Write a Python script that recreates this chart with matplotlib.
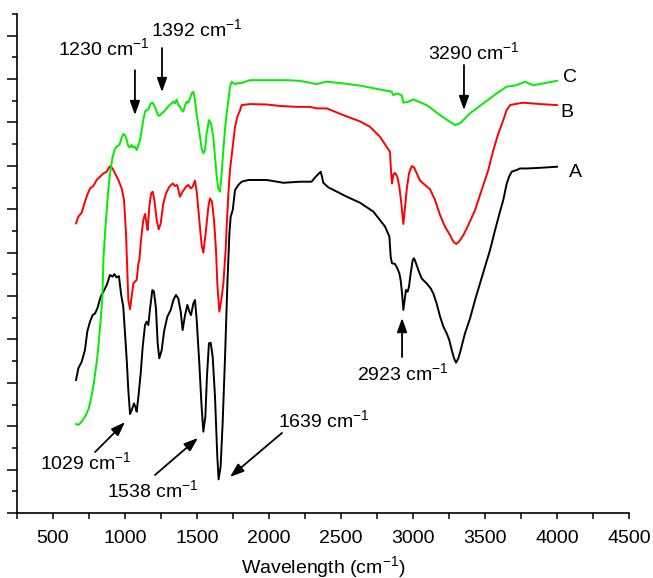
import matplotlib
matplotlib.use("Agg")
import matplotlib.pyplot as plt
from matplotlib.ticker import MultipleLocator, NullFormatter

plt.rcParams['font.family'] = ['Liberation Sans', 'DejaVu Sans']
plt.rcParams['mathtext.fontset'] = 'custom'
plt.rcParams['mathtext.rm'] = 'Liberation Sans'
plt.rcParams['mathtext.it'] = 'Liberation Sans:italic'

# ---- data (wavenumber, arbitrary transmittance units) ----
A_x = [660, 676, 699, 722, 738, 757, 775, 792, 808, 831, 850, 873, 896, 914, 926, 942, 958, 972, 988,
       1000, 1012, 1023, 1035, 1051, 1062, 1072, 1081, 1093, 1109, 1123, 1139, 1150, 1162, 1174, 1190,
       1201, 1215, 1227, 1238, 1255, 1271, 1294, 1317, 1336, 1354, 1370, 1387, 1400, 1417, 1433, 1447,
       1458, 1475, 1486, 1498, 1516, 1532, 1544, 1558, 1569, 1583, 1595, 1609, 1625, 1641, 1650, 1664,
       1678, 1694, 1711, 1725, 1734, 1748, 1764, 1787, 1810, 1857, 1984, 2100, 2215, 2296, 2320, 2343,
       2359, 2368, 2377, 2412, 2540, 2632, 2678, 2725, 2771, 2806, 2836, 2845, 2854, 2875, 2891, 2905,
       2914, 2924, 2933, 2942, 2951, 2963, 2972, 2984, 2998, 3007, 3021, 3037, 3060, 3095, 3123, 3141,
       3164, 3188, 3211, 3234, 3252, 3269, 3285, 3299, 3315, 3331, 3361, 3396, 3431, 3465, 3500, 3535,
       3570, 3604, 3627, 3650, 3667, 3685, 3720, 3743, 3789, 3882, 4000]
A_y = [6.13, 6.67, 6.97, 7.51, 8.36, 8.82, 9.12, 9.20, 9.43, 9.97, 10.20, 10.51, 10.97, 10.89, 11.01,
       10.86, 10.92, 10.12, 9.51, 8.28, 7.05, 5.67, 4.56, 4.82, 5.05, 4.90, 4.67, 5.36, 6.44, 7.67, 8.66,
       8.82, 8.66, 9.43, 10.28, 10.20, 9.43, 7.82, 7.13, 7.51, 8.36, 9.05, 9.35, 9.82, 10.05, 9.89, 9.28,
       8.43, 9.12, 9.59, 9.28, 9.12, 9.66, 9.82, 8.89, 6.90, 4.90, 3.75, 4.44, 6.28, 7.82, 7.85, 7.20,
       5.36, 2.60, 1.55, 2.14, 4.13, 7.05, 10.58, 12.89, 13.66, 13.96, 14.88, 15.12, 15.27, 15.35, 15.35,
       15.22, 15.27, 15.27, 15.47, 15.62, 15.73, 15.50, 15.22, 15.01, 14.58, 14.30, 14.10, 13.89, 13.50,
       13.20, 12.74, 11.81, 11.51, 11.48, 11.28, 11.05, 10.74, 10.12, 9.36, 9.82, 10.28, 10.20, 10.43,
       11.05, 11.66, 11.74, 11.51, 11.20, 10.81, 10.58, 10.35, 10.12, 9.66, 9.05, 8.59, 8.28, 7.97, 7.51,
       7.13, 6.93, 7.13, 7.51, 8.28, 8.97, 9.82, 10.58, 11.35, 12.12, 13.04, 13.89, 14.43, 15.16, 15.50,
       15.73, 15.81, 15.88, 15.88, 15.91, 15.96]

B_x = [660, 676, 699, 722, 738, 757, 780, 803, 826, 850, 873, 896, 914, 931, 954, 977, 993, 1007, 1023,
       1035, 1046, 1058, 1069, 1081, 1093, 1100, 1111, 1127, 1139, 1150, 1157, 1169, 1181, 1192, 1204,
       1220, 1234, 1248, 1266, 1285, 1308, 1331, 1347, 1363, 1382, 1400, 1424, 1440, 1456, 1470, 1486,
       1498, 1516, 1532, 1544, 1560, 1579, 1590, 1604, 1618, 1632, 1641, 1655, 1669, 1683, 1699, 1706,
       1718, 1729, 1748, 1764, 1780, 1799, 1810, 1868, 1984, 2077, 2192, 2285, 2331, 2401, 2516, 2632,
       2701, 2771, 2817, 2840, 2847, 2854, 2863, 2875, 2891, 2905, 2919, 2933, 2945, 2956, 2972, 2991,
       3007, 3026, 3049, 3083, 3118, 3153, 3188, 3222, 3257, 3280, 3299, 3320, 3350, 3384, 3431, 3477,
       3523, 3558, 3593, 3627, 3650, 3674, 3708, 3766, 3882, 4000]
B_y = [13.35, 13.66, 13.84, 14.35, 14.66, 14.96, 15.07, 15.35, 15.50, 15.65, 15.73, 15.99, 15.88, 15.65,
       15.35, 14.96, 14.43, 12.89, 9.82, 9.39, 9.97, 10.58, 10.66, 10.74, 11.51, 11.66, 12.58, 13.50,
       13.78, 13.35, 13.04, 14.12, 14.73, 14.81, 14.43, 13.50, 13.07, 13.35, 14.27, 14.73, 15.04, 15.19,
       15.07, 15.12, 14.58, 14.81, 15.04, 15.12, 14.96, 15.04, 15.32, 14.81, 13.50, 12.35, 12.00, 12.89,
       14.12, 14.50, 14.35, 13.50, 12.12, 10.58, 9.28, 9.82, 10.58, 12.12, 13.20, 14.73, 15.81, 16.88,
       17.80, 18.26, 18.57, 18.80, 18.85, 18.83, 18.76, 18.72, 18.72, 18.65, 18.65, 18.34, 18.05, 17.80,
       17.34, 16.88, 16.65, 15.81, 15.19, 15.58, 15.68, 15.50, 15.04, 14.27, 13.32, 14.12, 14.89, 15.65,
       15.99, 15.93, 15.65, 15.32, 15.12, 14.92, 14.43, 13.73, 13.20, 12.81, 12.51, 12.40, 12.51, 12.81,
       13.27, 13.96, 14.89, 15.81, 16.73, 17.50, 18.11, 18.57, 18.80, 18.85, 18.91, 18.85, 18.80]

C_x = [660, 676, 699, 722, 745, 762, 780, 796, 808, 819, 831, 843, 850, 861, 873, 884, 896, 914, 931,
       947, 961, 977, 988, 1000, 1012, 1023, 1035, 1046, 1058, 1069, 1081, 1093, 1104, 1116, 1127, 1139,
       1150, 1162, 1178, 1192, 1208, 1225, 1238, 1255, 1271, 1289, 1308, 1324, 1336, 1347, 1359, 1370,
       1382, 1394, 1405, 1417, 1428, 1440, 1451, 1463, 1475, 1486, 1498, 1509, 1521, 1532, 1544, 1556,
       1567, 1583, 1597, 1613, 1625, 1637, 1648, 1660, 1671, 1683, 1694, 1706, 1718, 1729, 1741, 1752,
       1771, 1787, 1799, 1868, 1984, 2123, 2215, 2308, 2331, 2366, 2401, 2516, 2632, 2771, 2852, 2863,
       2887, 2921, 2933, 2968, 3002, 3095, 3188, 3257, 3292, 3326, 3396, 3488, 3581, 3650, 3685, 3720,
       3778, 3813, 3836, 3928, 4000]
C_y = [4.10, 4.06, 4.21, 4.44, 4.75, 5.21, 5.82, 6.59, 7.20, 7.97, 8.89, 9.97, 11.66, 12.89, 13.96,
       14.89, 15.65, 16.42, 16.81, 16.91, 16.96, 17.31, 17.47, 17.42, 17.19, 16.91, 16.85, 16.96, 16.85,
       16.88, 16.73, 16.96, 17.19, 17.65, 18.11, 18.50, 18.57, 18.60, 18.88, 18.91, 18.73, 18.39, 18.30,
       18.42, 18.50, 18.65, 18.80, 18.88, 18.96, 18.88, 19.06, 18.80, 18.73, 18.57, 18.50, 18.80, 18.96,
       18.91, 19.11, 19.34, 19.42, 19.03, 18.34, 17.88, 17.34, 16.81, 16.58, 16.73, 17.50, 18.11, 17.96,
       17.34, 16.42, 15.50, 14.96, 14.81, 15.65, 16.73, 17.65, 18.42, 19.03, 19.65, 19.88, 19.80, 19.77,
       19.83, 19.80, 19.95, 19.95, 19.95, 19.92, 19.80, 19.77, 19.83, 19.88, 19.80, 19.70, 19.52, 19.42,
       19.26, 19.34, 19.26, 18.91, 18.96, 19.06, 18.80, 18.34, 18.03, 17.88, 17.96, 18.42, 18.88, 19.34,
       19.65, 19.68, 19.72, 19.88, 19.77, 19.72, 19.83, 19.92]

series = [("A", A_x, A_y, "black"), ("B", B_x, B_y, "#ff0000"), ("C", C_x, C_y, "#00ee00")]
label_pos = {"A": (4125, 15.71), "B": (4069, 18.48), "C": (4090, 20.09)}

# annotations: text, text position, arrow tail, arrow head
annotations = [
    ("1230 cm$^{-1}$", (854, 21.43), (1069, 20.41), (1069, 18.34)),
    ("1392 cm$^{-1}$", (1497, 22.3), (1257, 21.43), (1257, 19.40)),
    ("3290 cm$^{-1}$", (3424, 21.24), (3354, 20.65), (3354, 18.57)),
    ("2923 cm$^{-1}$", (2931, 6.45), (2924, 7.19), (2924, 8.99)),
    ("1029 cm$^{-1}$", (729, 2.35), (792, 2.81), (1000, 4.19)),
    ("1538 cm$^{-1}$", (1194, 1.06), (1208, 1.75), (1507, 3.46)),
    ("1639 cm$^{-1}$", (2382, 4.29), (2090, 3.69), (1729, 1.66)),
]

fig = plt.figure(figsize=(6.53, 5.78), dpi=100)
ax = fig.add_axes([17/653, 65/578, 612/653, 499/578])

for name, xs, ys, col in series:
    ax.plot(xs, ys, color=col, lw=1.4)
    ax.text(*label_pos[name], name, fontsize=14, ha='center', va='center')

for txt, tpos, tail, head in annotations:
    ax.text(*tpos, txt, fontsize=14, ha='center', va='center')
    ax.annotate('', xy=head, xytext=tail,
                arrowprops=dict(arrowstyle='-|>,head_length=0.7,head_width=0.25',
                                color='black', lw=1.3, shrinkA=0, shrinkB=0,
                                mutation_scale=12))

ax.set_xlim(250, 4500)
ax.set_ylim(0, 23)
ax.xaxis.set_major_locator(MultipleLocator(500))
ax.xaxis.set_minor_locator(MultipleLocator(250))
ax.yaxis.set_major_locator(MultipleLocator(2))
ax.yaxis.set_minor_locator(MultipleLocator(1))
ax.yaxis.set_major_formatter(NullFormatter())
ax.tick_params(axis='x', which='major', direction='out', length=4, width=1.1, labelsize=14, pad=8)
ax.tick_params(axis='x', which='minor', direction='out', length=4, width=1.1)
ax.tick_params(axis='y', which='major', direction='out', length=7, width=1.1)
ax.tick_params(axis='y', which='minor', direction='out', length=3.5, width=1.1)
for s in ['top', 'right']:
    ax.spines[s].set_visible(False)
for s in ['left', 'bottom']:
    ax.spines[s].set_linewidth(1.2)

ax.set_xlabel('Wavelength (cm$^{-1}$)', fontsize=14, labelpad=5)

fig.savefig('out.png', dpi=100)
